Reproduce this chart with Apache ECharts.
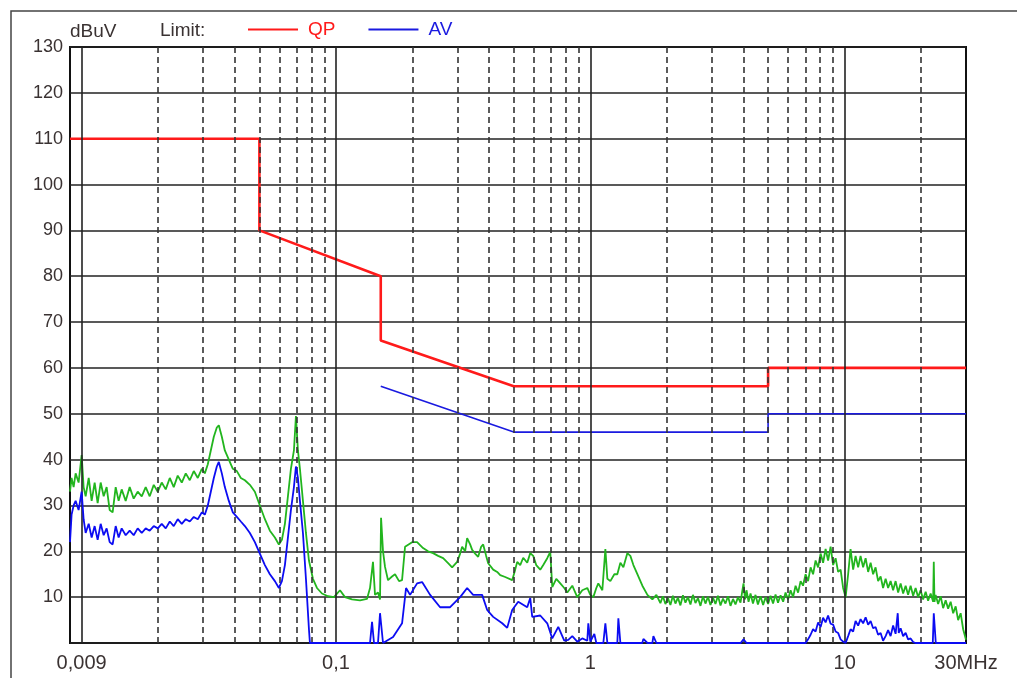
<!DOCTYPE html>
<html>
<head>
<meta charset="utf-8">
<script src="https://cdn.jsdelivr.net/npm/echarts@6/dist/echarts.min.js"></script>
<style>
html,body{margin:0;padding:0;background:#fff;}
#chart{width:1017px;height:678px;}
</style>
</head>
<body>
<div id="chart"></div>
<script>
// ---- Limits (dBuV vs MHz) ----
const limitQpFreq  = [0.009, 0.05, 0.05, 0.15, 0.15, 0.5, 5, 5, 30];
const limitQpLevel = [110, 110, 90, 80, 66, 56, 56, 60, 60];
const limitAvFreq  = [0.15, 0.5, 5, 5, 30];
const limitAvLevel = [56, 46, 46, 50, 50];

// ---- Measured QP trace (green) ----
const measQpFreq = [0.009,0.00913,0.0093,0.00947,0.00973,0.01,0.01018,0.01037,0.01066,0.01095,0.01125,0.01156,0.01188,0.01221,0.01254,0.01289,0.01324,0.01361,0.01398,0.01437,0.0149,0.01545,0.01602,0.01661,0.01723,0.01786,0.01852,0.01921,0.01992,0.02065,0.02141,0.02221,0.02302,0.02387,0.02476,0.02567,0.02662,0.0276,0.02862,0.02968,0.0305,0.03134,0.0322,0.03309,0.034,0.03462,0.03558,0.03656,0.03791,0.03931,0.04076,0.04226,0.04383,0.04586,0.04798,0.0502,0.05254,0.05497,0.05752,0.05964,0.06129,0.06298,0.06472,0.0665,0.06834,0.06959,0.07086,0.07215,0.07415,0.07619,0.07829,0.08118,0.08418,0.08808,0.093,0.0982,0.1037,0.1085,0.1156,0.1243,0.1324,0.1361,0.1398,0.1424,0.1463,0.149,0.1504,0.1531,0.1559,0.1602,0.1661,0.1707,0.177,0.1819,0.1869,0.1992,0.2084,0.22,0.2302,0.2409,0.2521,0.2638,0.276,0.2862,0.2995,0.3077,0.3134,0.322,0.3279,0.3369,0.3431,0.3525,0.3623,0.3722,0.3791,0.3895,0.3967,0.4151,0.4304,0.4423,0.4627,0.493,0.5066,0.5159,0.5301,0.5448,0.5649,0.5805,0.5964,0.6129,0.6356,0.6531,0.6772,0.6959,0.7086,0.7347,0.7619,0.7899,0.8118,0.8494,0.8887,0.93,0.9731,1.0,1.0276,1.056,1.075,1.115,1.146,1.167,1.199,1.243,1.277,1.313,1.349,1.398,1.437,1.477,1.531,1.602,1.677,1.754,1.819,
  1.886,1.929,1.974,2.019,2.065,2.112,2.161,2.21,2.261,2.313,2.366,2.42,2.476,2.532,2.59,2.65,2.711,2.773,2.836,2.901,2.968,3.036,3.105,3.176,3.25,3.324,3.4,3.478,3.558,3.64,3.722,3.808,3.895,3.95,4.003,4.06,4.113,4.19,4.265,4.36,4.462,4.56,4.669,4.78,4.886,5.0,5.112,5.23,5.349,5.47,5.598,5.73,5.857,5.99,6.129,6.27,6.413,6.56,6.711,6.86,7.022,7.18,7.347,7.515,7.687,7.863,8.043,8.228,8.416,8.609,8.806,9.008,9.214,9.425,9.641,9.862,10.09,10.32,10.55,10.8,11.04,11.3,11.55,11.82,12.09,12.37,12.65,12.94,13.23,13.54,13.85,14.16,14.49,14.82,15.16,15.51,15.86,16.23,16.6,16.98,17.37,17.76,18.17,18.59,19.01,19.45,19.89,20.35,20.82,21.29,21.78,22.28,22.41,22.55,22.79,23.31,23.85,24.39,24.95,25.52,26.11,26.71,27.32,27.94,28.58,29.24,30];
const measQpLevel = [33,36,34,37,35,41,34,32,36,31,35,30.5,35,32,34,29,28.5,34,31,33.5,31,34,31.5,33,32,34,32,34.5,33,35,33.5,36,34,36.5,35,37,35.5,37.5,36,38,37,39,42,45,47,47.5,45,42,40,38,37.5,36,35.5,34.5,33,30,27,24.5,23,21.5,22.5,26,32,38,42,49.5,42,38,31,24,18,14,12,10.8,10.2,10,11.5,10,9.5,9.3,9.6,12,17.7,10.5,11,9.5,27.3,20,16.6,13.7,14.5,15,13.5,13.7,21,22,22,20.7,20,19.6,19,18.5,17.4,16.5,17.7,19.5,21,20,22.9,21.5,20.3,19.5,18.8,21,21.5,19,17.4,16,15.5,14.8,14.4,13.7,16,17.7,17,18.6,17.5,19.6,19,17,16,17,18.5,19.9,12.2,14,13,12,11,12.5,10,11.5,12,10.5,10,12,13,11.5,20.5,14,13.5,15,15,17.5,16.5,19.6,19,17,15,12.5,10.5,9.5,10.5,
  8.7,10.2,8.5,9.8,8.3,10.3,8.6,9.9,8.2,10.4,8.8,10,8.4,10.5,8.7,9.8,8.1,10.2,8.6,10.1,8.3,9.9,8.5,10.3,8.2,9.7,8.6,10.2,8.1,9.6,8.4,10,8.8,11,13,9.5,11.5,9,10.8,8.6,10.5,8.4,10.2,8.3,10,8.5,10.3,8.6,10.6,8.8,10.4,9,11,9.5,11.5,10,12.5,11,13.5,12.5,15,13.5,16.5,15,18,16.5,19.5,17.5,20.5,18,21,17,18.5,15.5,16,12,10,15,20.5,16,19,16.5,19,16.5,18.5,15.5,17.5,15,16.5,13.5,14.5,12,14,12,13.5,11.5,13.5,11,13,10.8,12.5,10.5,12.5,10.3,12,10,11.5,9.5,11.2,9.2,10.8,9,17.7,9,10.5,8.5,10.2,7.6,9.3,7.5,9,6.5,8,5,6.5,3,0.7];

// ---- Measured AV trace (blue) ----
const measAvFreq = [0.009,0.00913,0.0093,0.00947,0.00973,0.01,0.01018,0.01037,0.01066,0.01095,0.01125,0.01156,0.01188,0.01221,0.01254,0.01289,0.01324,0.01361,0.01398,0.01437,0.0149,0.01545,0.01602,0.01661,0.01723,0.01786,0.01852,0.01921,0.01992,0.02065,0.02141,0.02221,0.02302,0.02387,0.02476,0.02567,0.02662,0.0276,0.02862,0.02968,0.0305,0.03134,0.0322,0.03309,0.034,0.03462,0.03558,0.03656,0.03791,0.03931,0.04076,0.04226,0.04383,0.04586,0.04798,0.0502,0.05254,0.05497,0.05752,0.05964,0.06129,0.06298,0.06472,0.0665,0.06834,0.06959,0.07086,0.07215,0.07415,0.07619,0.07829,0.07899,0.1,0.1361,0.1386,0.1411,0.1463,0.149,0.1531,0.1677,0.1819,0.1886,0.1956,0.2084,0.2181,0.2345,0.2567,0.2811,0.3077,0.3279,0.3462,0.3756,0.3931,0.4151,0.4504,0.4712,0.493,0.5206,0.5649,0.5805,0.5911,0.6356,0.6772,0.7086,0.7482,0.7899,0.8192,0.8494,0.8887,0.93,0.9731,0.982,1.0,1.037,1.056,1.125,1.146,1.167,1.277,1.289,1.313,1.6,1.617,1.677,1.754,1.77,1.819,3.9,4.003,4.113,
  7.022,7.18,7.347,7.515,7.687,7.863,8.043,8.228,8.416,8.609,8.806,9.008,9.214,9.425,9.641,9.862,10.09,10.32,10.55,10.8,11.04,11.3,11.55,11.82,12.09,12.37,12.65,12.94,13.23,13.54,13.85,14.16,14.49,14.82,15.16,15.51,15.86,16.17,16.32,16.6,16.98,17.37,17.76,18.17,18.59,19.01,22.21,22.41,22.82,30];
const measAvLevel = [22,28,30,31,29,33,27,24,26,23,25.5,22.5,26,23.5,25,22,21.5,25.5,23,25,23.5,24.5,23.5,25,24,25,24.5,25.5,25,26,25,26.5,25.5,27,26,27,26.5,27.5,27,28.5,28,30,33,36,38.5,39.5,37,34,31,28.5,27.5,26.5,25.5,24,22,19.5,17,15,13.5,12,13.5,17,23,29,34,38.5,36,31,24,14,3,0,0,0,4.6,0,0,6.5,0,1.3,4.3,12,10.5,13,13.3,10.5,7.8,7.8,10,12,10.5,10.5,7.2,5.7,4.3,3.3,7.2,9,7.8,9.8,5.7,6,4.3,1,3.5,0.5,0.7,1.5,0.3,1,0.5,4.3,0.3,2,0,0,4.3,0,0,5.4,0,0,0.9,0,0,1.5,0,0,0.8,0,
  0,0.8,1.8,3,2.5,4.5,3.5,5.5,4.5,6,4.2,4,2.5,2.2,0.8,0.3,0,1.5,3,2.5,4.8,3.8,5.2,4.3,5.6,4,4.8,3.2,3.5,1.8,2.2,0.5,1.5,2.8,1.5,3.8,2,6.5,2.2,3.2,1.5,2.2,0.8,1,0.2,0,0,6.5,0,0];

// ---- Axis grid frequencies and labels ----
const majorFreqs = [0.01, 0.1, 1, 10];
const minorFreqs = [0.02,0.03,0.04,0.05,0.06,0.07,0.08,0.09,
                    0.2,0.3,0.4,0.5,0.6,0.7,0.8,0.9,
                    2,3,4,5,6,7,8,9,20];
const xLabelFreqs = [0.009, 0.1, 1, 10, 30];
const xLabelTexts = ['0,009', '0,1', '1', '10', '30MHz'];

const pairs = (xs, ys) => xs.map((x, i) => [x, ys[i]]);
const FONT = '"Liberation Sans", Arial, Helvetica, sans-serif';
const TXT = '#3a3232';

const gridMarks = []
  .concat(majorFreqs.map(f => ({xAxis: f, lineStyle: {type: 'solid', width: 1.6, color: '#222'}})))
  .concat(minorFreqs.map(f => ({xAxis: f, lineStyle: {type: [6, 4], width: 1.6, color: '#333'}})))
  .concat(xLabelFreqs.map((f, i) => ({
    xAxis: f,
    lineStyle: {color: 'rgba(0,0,0,0)', width: 1},
    label: {show: true, position: 'start', formatter: xLabelTexts[i], fontSize: 20, fontFamily: FONT, color: TXT, distance: 10}
  })));

const lineIcon = 'path://M0,0H50V2H0Z';

const chart = echarts.init(document.getElementById('chart'), null, {renderer: 'canvas'});
chart.setOption({
  animation: false,
  backgroundColor: '#fff',
  grid: {left: 70, right: 51, top: 47, bottom: 35, show: true, borderColor: '#111', borderWidth: 2, backgroundColor: 'transparent'},
  xAxis: {
    type: 'log', logBase: 10, min: 0.009, max: 30,
    axisLine: {show: false}, axisTick: {show: false}, axisLabel: {show: false}, splitLine: {show: false}
  },
  yAxis: {
    type: 'value', min: 0, max: 130, interval: 10,
    name: 'dBuV', nameLocation: 'end', nameGap: 15,
    nameTextStyle: {align: 'left', verticalAlign: 'middle', fontSize: 19, fontFamily: FONT, color: TXT},
    axisLine: {show: false}, axisTick: {show: false},
    axisLabel: {fontSize: 18, fontFamily: FONT, color: TXT, margin: 7, formatter: v => (v === 0 ? '' : String(v))},
    splitLine: {show: true, lineStyle: {color: '#222', width: 1.6}}
  },
  legend: {
    data: [{name: 'QP', icon: lineIcon, textStyle: {color: '#ff1a1a'}}, {name: 'AV', icon: lineIcon, textStyle: {color: '#1a1ae0'}}],
    left: 248, top: 20, padding: 0, itemWidth: 50, itemHeight: 2, itemGap: 33,
    textStyle: {fontSize: 19, fontFamily: FONT, padding: [0, 0, 0, 5]}
  },
  graphic: [
    {type: 'rect', shape: {x: 11, y: 11, width: 1200, height: 1000}, style: {fill: 'none', stroke: '#444', lineWidth: 1.5}, z: -10, silent: true},
    {type: 'text', left: 160, top: 21, style: {text: 'Limit:', fontSize: 19, fontFamily: FONT, fill: TXT}}
  ],
  series: [
    {type: 'line', name: 'grid', data: [], z: 1, silent: true,
     markLine: {silent: true, symbol: ['none', 'none'], animation: false, label: {show: false}, data: gridMarks}},
    {type: 'line', name: 'QP', data: pairs(limitQpFreq, limitQpLevel), symbol: 'none', z: 3,
     color: '#ff1a1a', lineStyle: {width: 2.6, color: '#ff1a1a'}},
    {type: 'line', name: 'AV', data: pairs(limitAvFreq, limitAvLevel), symbol: 'none', z: 3,
     color: '#1a1ae0', lineStyle: {width: 1.6, color: '#1a1ae0'}},
    {type: 'line', name: 'QP measured', data: pairs(measQpFreq, measQpLevel), symbol: 'none', z: 4,
     color: '#22b51e', lineStyle: {width: 1.8, color: '#22b51e'}},
    {type: 'line', name: 'AV measured', data: pairs(measAvFreq, measAvLevel), symbol: 'none', z: 5,
     color: '#0c0cf2', lineStyle: {width: 1.8, color: '#0c0cf2'}}
  ]
});
</script>
</body>
</html>
